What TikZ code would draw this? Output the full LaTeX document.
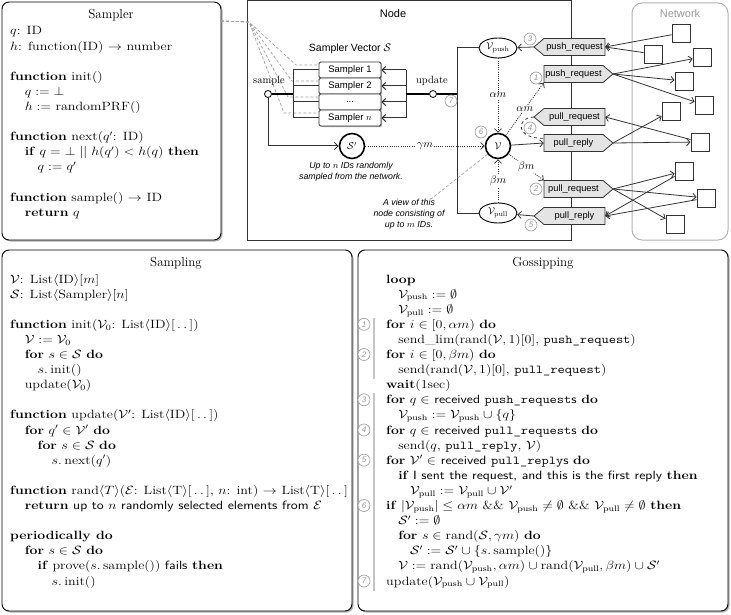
\documentclass[tikz,border=0pt]{standalone}
\usepackage{amsmath,amssymb}
\usepackage{graphicx}
\usepackage{fontspec}
\newfontfamily\arial{Liberation Sans}
\usetikzlibrary{arrows.meta,shapes.geometric,shadows,calc}
\definecolor{ln}{HTML}{333333}
\definecolor{msgfill}{HTML}{E4E4E4}
\definecolor{numgray}{HTML}{999999}
\definecolor{bargray}{HTML}{C4C4C4}
\definecolor{dashgray}{HTML}{A0A0A0}
\newcommand\codefont{\fontsize{12}{15.1}\selectfont}
\newcommand\codex{1.17}
\newcommand\Ia{\hspace*{12.5pt}}
\newcommand\Ib{\hspace*{23.5pt}}
\newcommand\Ic{\hspace*{35.5pt}}
\newcommand\Ga{\hspace*{10.3pt}}
\newcommand\Gb{\hspace*{20.5pt}}
\newcommand\dotsrange{[\,.\,.\,]}
\newcommand\cV{\mathcal{V}}
\newcommand\cS{\mathcal{S}}
\newcommand\Vpush{\mathcal{V}_{\mathrm{push}}}
\newcommand\Vpull{\mathcal{V}_{\mathrm{pull}}}
\newcommand\rcv{\textsf{received}}
\newcommand\msgin[3]{%
  \draw[msgsh] (534,#2) -- (544,#2-8.5) -- (605,#2-8.5) -- (605,#2+8.5) -- (544,#2+8.5) -- cycle;
  \node[msgtxt, minimum width=61pt] (#1) at (574.5,#2) {#3};
  \coordinate (#1tip) at (534,#2);}
\newcommand\msgout[3]{%
  \draw[msgsh] (544,#2-8.5) -- (603,#2-8.5) -- (613,#2) -- (603,#2+8.5) -- (544,#2+8.5) -- cycle;
  \node[msgtxt, minimum width=59pt] (#1) at (573.5,#2) {#3};
  \coordinate (#1tip) at (613,#2);}
\begin{document}
\begin{tikzpicture}[x=1pt,y=-1pt,
  codeblk/.style={anchor=base west, inner sep=0pt},
  sketchbox/.style={draw=black, line width=0.9pt, rounded corners=7pt, fill=white,
     drop shadow={shadow xshift=1.5pt, shadow yshift=-1.5pt, fill=black!30, opacity=1}},
  ttl/.style={anchor=base, inner sep=0pt, font=\fontsize{13}{14}\selectfont},
  ln1/.style={draw=ln, line width=1pt},
  thk/.style={draw=black, line width=1.7pt},
  arrtip/.style={-{Straight Barb[length=3.5pt,width=7pt]}},
  arr/.style={draw=ln, line width=0.8pt, arrtip},
  dotline/.style={draw=ln, line width=0.8pt, dash pattern=on 1pt off 1.2pt, arrtip},
  gdash/.style={draw=dashgray, line width=0.7pt, dash pattern=on 3pt off 2pt},
  msgsh/.style={draw=ln, fill=msgfill, line width=0.8pt},
  msgtxt/.style={inner sep=0pt, minimum height=17pt, font=\arial\fontsize{9.3}{10}\selectfont},
  sq/.style={draw=ln, fill=white, line width=0.8pt, minimum size=18pt, inner sep=0pt,
     drop shadow={shadow xshift=1.2pt, shadow yshift=-1.2pt, fill=black!30, opacity=1}},
  smp/.style={draw=ln, fill=white, line width=0.8pt, rounded corners=1.5pt, minimum width=62pt,
     minimum height=16pt, inner sep=0pt, font=\arial\fontsize{9.5}{10}\selectfont,
     drop shadow={shadow xshift=1.2pt, shadow yshift=-1.2pt, fill=black!30, opacity=1}},
  port/.style={circle, draw=black, fill=white, line width=0.8pt, minimum size=7pt, inner sep=0pt},
  bigc/.style={circle, draw=black, fill=white, line width=1.6pt, minimum size=25pt, inner sep=0pt},
  ell/.style={ellipse, draw=black, fill=white, line width=0.9pt, minimum width=38pt, minimum height=20pt, inner sep=0pt},
  lbl/.style={fill=white, inner sep=1pt, font=\fontsize{10.5}{11}\selectfont},
  numc/.style={circle, draw=numgray, text=numgray, fill=white, line width=0.6pt, minimum size=12pt,
     inner sep=0pt, font=\arial\itshape\fontsize{8}{8}\selectfont},
  gbar/.style={draw=bargray, line width=2.6pt},
  note/.style={align=center, inner sep=0pt, font=\arial\itshape\fontsize{8.8}{11.2}\selectfont},
]
\useasboundingbox (0,0) rectangle (731,615);

% ---------------- frames
\draw[draw=ln, line width=1pt] (247,0.6) rectangle (571,240);
\draw[draw=black!30, line width=1pt, rounded corners=10pt] (632,3) rectangle (728,240);
\path[sketchbox] (2,2) rectangle (221,240);
\path[sketchbox] (2,250) rectangle (352,611);
\path[sketchbox] (358,250) rectangle (728,611);

\node[ttl] (tsampler) at (111,18.5) {Sampler};
\node[ttl] (tsampling) at (176,266) {Sampling};
\node[ttl] (tgossip) at (543,266) {Gossipping};
\node[font=\arial\fontsize{11}{12}\selectfont, inner sep=0pt] (tnode) at (393,14) {Node};
\node[font=\arial\fontsize{11}{12}\selectfont, text=black!40, inner sep=0pt] (tnet) at (680,14) {Network};
\node[font=\arial\fontsize{10.5}{12}\selectfont, inner sep=0pt] (tvec) at (350,49) {Sampler Vector $\mathcal{S}$};

% ---------------- code: Sampler
\node[codeblk] (samplercode) at (10,35) {\scalebox{\codex}[1]{\begin{minipage}[t]{180pt}\codefont
$q$: ID\\
$h$: function(ID) $\rightarrow$ number\\
\mbox{}\\
\textbf{function} init()\\
\Ia$q :=\bot$\\
\Ia$h :=$ randomPRF()\\
\mbox{}\\
\textbf{function} next($q'$: ID)\\
\Ia\textbf{if} $q =\bot \mathrel{||} h(q') < h(q)$ \textbf{then}\\
\Ib$q := q'$\\
\mbox{}\\
\textbf{function} sample() $\rightarrow$ ID\\
\Ia\textbf{return} $q$
\end{minipage}}};

% ---------------- code: Sampling
\node[codeblk] (samplingcode) at (10,283) {\scalebox{\codex}[1]{\begin{minipage}[t]{290pt}\codefont
$\cV$: List$\langle$ID$\rangle[m]$\\
$\cS$: List$\langle$Sampler$\rangle[n]$\\
\mbox{}\\
\textbf{function} init($\cV_0$: List$\langle$ID$\rangle\dotsrange$)\\
\Ia$\cV := \cV_0$\\
\Ia\textbf{for} $s \in \cS$ \textbf{do}\\
\Ib$s.\,$init()\\
\Ia update($\cV_0$)\\
\mbox{}\\
\textbf{function} update($\cV'$: List$\langle$ID$\rangle\dotsrange$)\\
\Ia\textbf{for} $q' \in \cV'$ \textbf{do}\\
\Ib\textbf{for} $s \in \cS$ \textbf{do}\\
\Ic$s.\,$next($q'$)\\
\mbox{}\\
\textbf{function} rand$\langle T\rangle$($\mathcal{E}$: List$\langle$T$\rangle\dotsrange$, $n$: int) $\rightarrow$ List$\langle$T$\rangle\dotsrange$\\
\Ia\textbf{return} \textsf{up to $n$ randomly selected elements from $\mathcal{E}$}\\
\mbox{}\\
\textbf{periodically do}\\
\Ia\textbf{for} $s \in \cS$ \textbf{do}\\
\Ib\textbf{if} prove($s.\,$sample()) \textsf{fails} \textbf{then}\\
\Ic$s.\,$init()
\end{minipage}}};

% ---------------- code: Gossipping
\node[codeblk] (gosscode) at (386,283) {\scalebox{\codex}[1]{\begin{minipage}[t]{290pt}\codefont
\textbf{loop}\\
\Ga$\Vpush := \emptyset$\\
\Ga$\Vpull := \emptyset$\\
\textbf{for} $i \in [0, \alpha m)$ \textbf{do}\\
\Ga send\_lim(rand($\cV, 1)[0]$, \texttt{push\_request})\\
\textbf{for} $i \in [0, \beta m)$ \textbf{do}\\
\Ga send(rand($\cV, 1)[0]$, \texttt{pull\_request})\\
\textbf{wait}(1sec)\\
\textbf{for} $q \in$ \rcv{} \texttt{push\_request}\textsf{s} \textbf{do}\\
\Ga$\Vpush := \Vpush \cup \{q\}$\\
\textbf{for} $q \in$ \rcv{} \texttt{pull\_request}\textsf{s} \textbf{do}\\
\Ga send($q$, \texttt{pull\_reply}, $\cV$)\\
\textbf{for} $\cV' \in$ \rcv{} \texttt{pull\_reply}\textsf{s} \textbf{do}\\
\Ga\textbf{if} \textsf{I sent the request, and this is the first reply} \textbf{then}\\
\Gb$\Vpull := \Vpull \cup \cV'$\\
\textbf{if} $|\Vpush| \leq \alpha m$ \&\& $\Vpush \neq \emptyset$ \&\& $\Vpull \neq \emptyset$ \textbf{then}\\
\Ga$\cS' := \emptyset$\\
\Ga\textbf{for} $s \in \mathrm{rand}(\cS, \gamma m)$ \textbf{do}\\
\Gb$\cS' := \cS' \cup \{s.\,\mathrm{sample}()\}$\\
\Ga$\cV := \mathrm{rand}(\Vpush, \alpha m) \cup \mathrm{rand}(\Vpull, \beta m) \cup \cS'$\\
update($\Vpush \cup \Vpull$)
\end{minipage}}};

% gossipping markers
\draw[gbar] (374,317.8) -- (374,348.9);
\draw[gbar] (374,348.0) -- (374,379.1);
\draw[gbar] (374,393.3) -- (374,424.4);
\draw[gbar] (374,423.5) -- (374,454.6);
\draw[gbar] (374,453.7) -- (374,499.9);
\draw[gbar] (374,499.0) -- (374,575.4);
\draw[gbar] (374,574.5) -- (374,590.5);
\node[numc] (g1) at (364,324.3) {1};
\node[numc] (g2) at (364,354.5) {2};
\node[numc] (g3) at (364,399.8) {3};
\node[numc] (g4) at (364,430.0) {4};
\node[numc] (g5) at (364,460.2) {5};
\node[numc] (g6) at (364,505.5) {6};
\node[numc] (g7) at (364,581.0) {7};

% ---------------- Network
\node[sq] (n1) at (681,33) {};
\node[sq] (n2) at (653,54) {};
\node[sq] (n3) at (702,57) {};
\node[sq] (n4) at (684,81) {};
\node[sq] (n5) at (704,105) {};
\node[sq] (n6) at (671,111) {};
\node[sq] (n7) at (700,142) {};
\node[sq] (n8) at (684,171) {};
\node[sq] (n9) at (706,198) {};
\node[sq] (n10) at (675,224) {};

% ---------------- messages
\msgin{pushin}{47}{push\_request}
\msgout{pushout}{74}{push\_request}
\msgin{pullin}{117}{pull\_request}
\msgout{replyout}{143}{pull\_reply}
\msgout{pullout}{189}{pull\_request}
\msgin{replyin}{216}{pull\_reply}

\draw[arr] (n1) -- (pushin.east);
\draw[arr] (n2) -- (pushin.east);
\draw[arr] (pushouttip) -- (n3);
\draw[arr] (pushouttip) -- (n4);
\draw[arr] (pushouttip) -- (n5);
\draw[arr] (n7) -- (pullin.east);
\draw[arr] (replyouttip) -- (n6);
\draw[arr] (replyouttip) -- (n7);
\draw[arr] (pullouttip) -- (n8);
\draw[arr] (pullouttip) -- (n9);
\draw[arr] (pullouttip) -- (n10);
\draw[arr] (n8) -- (replyin.east);
\draw[arr] (n9) -- (replyin.east);

% ---------------- sampler vector
\node[smp] (s1) at (350,70) {Sampler 1};
\node[smp] (s2) at (350,86) {Sampler 2};
\node[smp] (s3) at (350,102) {...};
\node[smp] (s4) at (350,118) {Sampler $n$};
\coordinate (sbe) at (221,21);
\coordinate (lbar) at (293,94);
\coordinate (rbar) at (406,94);
\coordinate (ubar) at (457,94);

\draw[gdash] (sbe) -- (249,22) -- (296,65) -- ([yshift=5pt]s1.west);
\draw[gdash] (sbe) -- (249,22) -- (292,81) -- ([yshift=5pt]s2.west);
\draw[gdash] (sbe) -- (249,22) -- (288,97) -- ([yshift=5pt]s3.west);
\draw[gdash] (sbe) -- (249,22) -- (284,113) -- ([yshift=5pt]s4.west);

\node[port] (sample) at (268,94) {};
\node[port] (update) at (433,94) {};
\node[font=\fontsize{10.5}{11}\selectfont, inner sep=0pt] (samplelbl) at (269,81) {sample};
\node[font=\fontsize{10.5}{11}\selectfont, inner sep=0pt] (updatelbl) at (432,81) {update};

\draw[ln1] (s1.west -| lbar) -- (s4.west -| lbar);
\foreach \s in {s1,s2,s3,s4} \draw[ln1] (\s.west -| lbar) -- (\s.west);
\draw[ln1] (s1.east -| rbar) -- (s4.east -| rbar);
\foreach \s in {s1,s2,s3,s4} \draw[arr, line width=1pt] (\s.east -| rbar) -- (\s.east);
\draw[thk] (sample) -- (lbar);
\draw[thk] (rbar) -- (update) -- (ubar);

% ---------------- views
\node[bigc] (sp) at (352,146) {$\mathcal{S}'$};
\node[bigc] (v) at (498,146) {$\mathcal{V}$};
\node[ell] (vpush) at (498,48) {$\Vpush$};
\node[ell] (vpull) at (498,213) {$\Vpull$};

\draw[ln1] (vpush.west -| ubar) -- (vpull.west -| ubar);
\draw[ln1] (vpush.west -| ubar) -- (vpush.west);
\draw[ln1] (vpull.west -| ubar) -- (vpull.west);
\draw[arr, line width=1pt] (sample) |- (sp);

\draw[dotline] (sp) -- node[lbl] (gml) {$\gamma m$} (v);
\draw[dotline] (vpush) -- node[lbl] (aml) {$\alpha m$} (v);
\draw[dotline] (vpull) -- node[lbl] (bml) {$\beta m$} (v);
\draw[dotline] (v) -- node[lbl] (aml2) {$\alpha m$} (pushout.south west);
\draw[dotline] (v) -- node[lbl] (bml2) {$\beta m$} (pullout.north west);
\draw[arr] (v) -- (replyout.west);
\draw[arr] (pushintip) -- (vpush);
\draw[arr] (replyintip) -- (vpull);
\draw[draw=ln, line width=0.8pt, dashed] (pullintip) .. controls (515,118) and (516,139) .. ([yshift=-4pt]replyout.north west);

\node[note] (uptext) at (351,171.5) {Up to $n$ IDs randomly\\sampled from the network.};
\node[note] (viewtext) at (409,214.5) {A view of this\\node consisting of\\up to $m$ IDs.};
\draw[gdash] (v) -- ([xshift=22pt]viewtext.north);

\node[numc] (c1) at (536,78) {1};
\node[numc] (c2) at (536,189) {2};
\node[numc] (c3) at (530,39) {3};
\node[numc] (c4) at (530,128) {4};
\node[numc] (c5) at (531,225) {5};
\node[numc] (c6) at (481,132) {6};
\node[numc] (c7) at (451,101) {7};
\end{tikzpicture}
\end{document}
